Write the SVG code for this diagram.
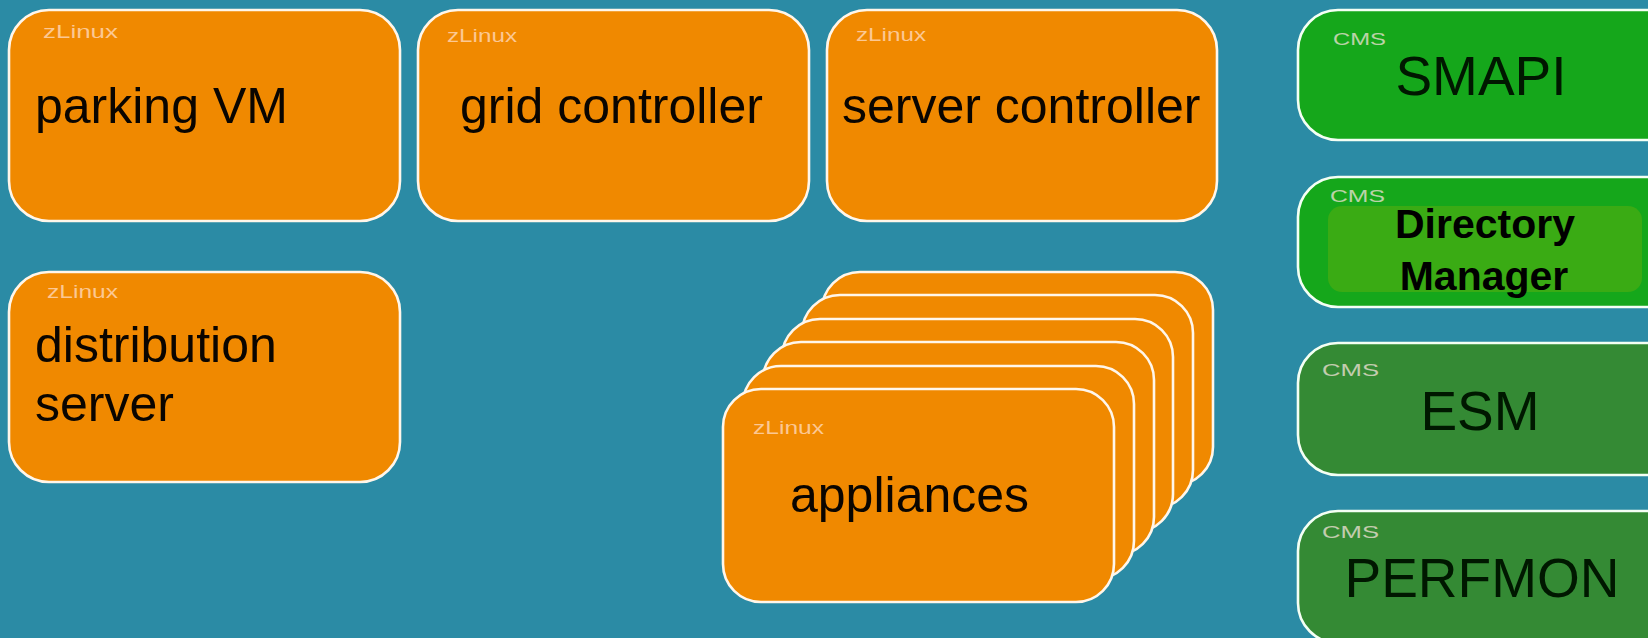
<svg xmlns="http://www.w3.org/2000/svg" width="1648" height="638" viewBox="0 0 1648 638">
  <style>
    .vm { fill: #f08900; stroke: #fff6ea; stroke-width: 2.6; }
    .cms-a { fill: #15a71b; stroke: #f4fff4; stroke-width: 2.6; }
    .cms-b { fill: #348a34; stroke: #f4fff4; stroke-width: 2.6; }
    .tag { font-family: "Liberation Sans", Arial, sans-serif; font-size: 19px; fill: #ffd8b8; opacity: 0.8; }
    .ctag { font-family: "Liberation Sans", Arial, sans-serif; font-size: 17px; fill: #f2e2d8; opacity: 0.75; }
    .label { font-family: "Liberation Sans", Arial, sans-serif; font-size: 50px; fill: #0a0500; }
    .big { font-family: "Liberation Sans", Arial, sans-serif; font-size: 55px; fill: #001800; text-anchor: middle; }
    .bold { font-family: "Liberation Sans", Arial, sans-serif; font-size: 41px; font-weight: bold; fill: #000; text-anchor: middle; }
  </style>

  <!-- backdrop -->
  <rect x="0" y="0" width="1648" height="638" fill="#2b8ba5"/>

  <g id="connectors"/>

  <!-- zLinux guests -->
  <g id="parking-vm">
    <rect class="vm" x="9" y="10" width="391" height="211" rx="40"/>
    <text class="tag" x="43" y="38" textLength="75" lengthAdjust="spacingAndGlyphs">zLinux</text>
    <text class="label" x="35" y="123">parking VM</text>
  </g>

  <g id="grid-controller">
    <rect class="vm" x="418" y="10" width="391" height="211" rx="40"/>
    <text class="tag" x="447" y="42" textLength="70" lengthAdjust="spacingAndGlyphs">zLinux</text>
    <text class="label" x="460" y="123">grid controller</text>
  </g>

  <g id="server-controller">
    <rect class="vm" x="827" y="10" width="390" height="211" rx="40"/>
    <text class="tag" x="856" y="41" textLength="70" lengthAdjust="spacingAndGlyphs">zLinux</text>
    <text class="label" x="842" y="123">server controller</text>
  </g>

  <g id="distribution-server">
    <rect class="vm" x="9" y="272" width="391" height="210" rx="40"/>
    <text class="tag" x="47" y="298" textLength="71" lengthAdjust="spacingAndGlyphs">zLinux</text>
    <text class="label" x="35" y="362">distribution</text>
    <text class="label" x="35" y="421">server</text>
  </g>

  <!-- stacked appliance guests, back to front -->
  <g id="appliances">
    <rect class="vm" x="822" y="272" width="391" height="213" rx="38"/>
    <rect class="vm" x="802" y="295" width="391" height="213" rx="38"/>
    <rect class="vm" x="782" y="319" width="391" height="213" rx="38"/>
    <rect class="vm" x="763" y="342" width="391" height="213" rx="38"/>
    <rect class="vm" x="743" y="366" width="391" height="213" rx="38"/>
    <rect class="vm" x="723" y="389" width="391" height="213" rx="38"/>
    <text class="tag" x="753" y="434" textLength="71" lengthAdjust="spacingAndGlyphs">zLinux</text>
    <text class="label" x="790" y="512">appliances</text>
  </g>

  <!-- CMS service machines -->
  <g id="smapi">
    <rect class="cms-a" x="1298" y="10" width="420" height="130" rx="40"/>
    <text class="ctag" x="1333" y="45" textLength="53" lengthAdjust="spacingAndGlyphs">CMS</text>
    <text class="big" x="1481" y="95">SMAPI</text>
  </g>

  <g id="directory-manager">
    <rect class="cms-a" x="1298" y="177" width="420" height="130" rx="40"/>
    <rect x="1328" y="206" width="314" height="86" rx="14" fill="#3aab14"/>
    <text class="ctag" x="1330" y="202" textLength="55" lengthAdjust="spacingAndGlyphs">CMS</text>
    <text class="bold" x="1485" y="238">Directory</text>
    <text class="bold" x="1484" y="290">Manager</text>
  </g>

  <g id="esm">
    <rect class="cms-b" x="1298" y="343" width="420" height="132" rx="40"/>
    <text class="ctag" x="1322" y="376" textLength="57" lengthAdjust="spacingAndGlyphs">CMS</text>
    <text class="big" x="1480" y="430">ESM</text>
  </g>

  <g id="perfmon">
    <rect class="cms-b" x="1298" y="511" width="420" height="132" rx="40"/>
    <text class="ctag" x="1322" y="538" textLength="57" lengthAdjust="spacingAndGlyphs">CMS</text>
    <text class="big" x="1482" y="597">PERFMON</text>
  </g>
</svg>
